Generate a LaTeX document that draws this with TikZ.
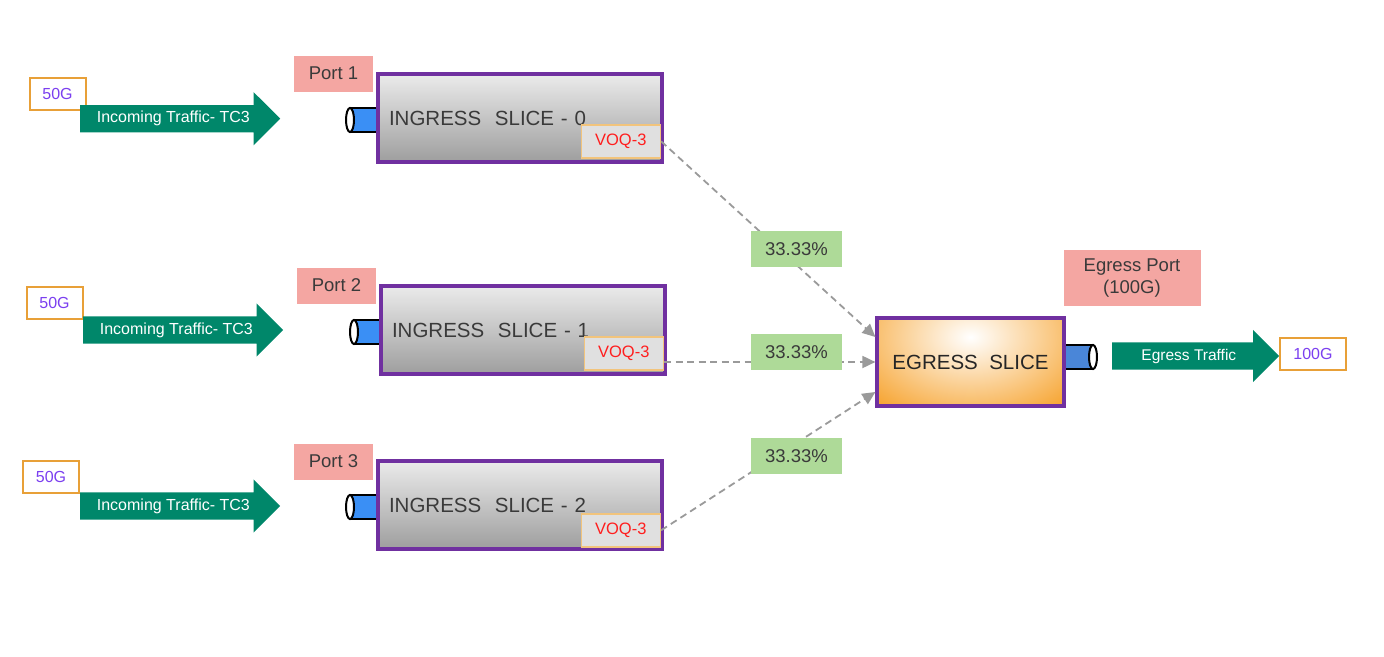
\documentclass[tikz,border=0pt]{standalone}
\usepackage{fontspec}
\setmainfont{Liberation Sans}
\usetikzlibrary{shapes.arrows,arrows.meta}
\definecolor{arrowgreen}{HTML}{00876A}
\definecolor{portpink}{HTML}{F4A6A2}
\definecolor{pctgreen}{HTML}{AEDA98}
\definecolor{slicepurple}{HTML}{7030A0}
\definecolor{boxorange}{HTML}{E8A038}
\definecolor{speedpurple}{HTML}{7B3FF0}
\definecolor{voqorange}{HTML}{F2C47C}
\definecolor{voqred}{HTML}{FF1E1E}
\definecolor{textgray}{HTML}{3A3A3A}
\definecolor{cylblue}{HTML}{3A8FF5}
\definecolor{egblue}{HTML}{4A86D8}
\definecolor{egorange}{HTML}{F6A12A}
\definecolor{conngray}{HTML}{9A9A9A}
\begin{document}
\begin{tikzpicture}[x=1pt,y=-1pt,
  slice/.style={draw=slicepurple, line width=3.2pt, top color=black!8, middle color=black!14, bottom color=black!38,
    minimum width=284pt, minimum height=88pt, inner sep=0pt, text width=262pt, align=left,
    font=\fontsize{20.5}{24}\selectfont, text=textgray},
  voq/.style={draw=voqorange, line width=1.6pt, fill=black!12, text=voqred, minimum width=79pt,
    minimum height=33pt, inner sep=0pt, font=\fontsize{16.5}{19}\selectfont, anchor=south east},
  port/.style={fill=portpink, text=textgray, inner sep=0pt, minimum width=79pt, minimum height=36pt,
    font=\fontsize{18.5}{22}\selectfont},
  speed/.style={draw=boxorange, line width=2pt, fill=white, text=speedpurple, minimum width=56pt,
    minimum height=32pt, inner sep=0pt, font=\fontsize{16}{19}\selectfont},
  pct/.style={fill=pctgreen, text=textgray, minimum width=91pt, minimum height=36pt, inner sep=0pt,
    font=\fontsize{18.5}{22}\selectfont},
  inarrow/.style={single arrow, fill=arrowgreen, text=white, font=\fontsize{16}{19}\selectfont,
    single arrow head extend=13pt, single arrow tip angle=90, minimum height=200pt,
    text height=11pt, text depth=3pt, inner ysep=6.5pt, inner xsep=4pt, anchor=tail},
  outarrow/.style={single arrow, fill=arrowgreen, text=white, font=\fontsize{15.5}{19}\selectfont,
    single arrow head extend=12.5pt, single arrow tip angle=90, minimum height=167pt,
    text height=11pt, text depth=3pt, inner ysep=6.5pt, inner xsep=4pt, anchor=tail},
  conn/.style={draw=conngray, line width=1.8pt, dash pattern=on 7pt off 4.5pt,
    -{Triangle[length=13pt,width=12pt,fill=conngray]}},
  cylbody/.style={draw=black, line width=2pt}
]
\useasboundingbox (0,0) rectangle (1384,656);

% ---------- ingress cylinders ----------
\filldraw[cylbody, fill=cylblue] (350,108) rectangle (380,132);
\filldraw[cylbody, fill=white] (350,120) ellipse [x radius=4pt, y radius=12pt];
\filldraw[cylbody, fill=cylblue] (354,320) rectangle (383,344);
\filldraw[cylbody, fill=white] (354,332) ellipse [x radius=4pt, y radius=12pt];
\filldraw[cylbody, fill=cylblue] (350,495) rectangle (380,519);
\filldraw[cylbody, fill=white] (350,507) ellipse [x radius=4pt, y radius=12pt];

% ---------- ingress slices ----------
\node[slice] (s0) at (520,118) {INGRESS\ \ SLICE - 0};
\node[slice] (s1) at (523,330) {INGRESS\ \ SLICE - 1};
\node[slice] (s2) at (520,505) {INGRESS\ \ SLICE - 2};
\node[voq] (v0) at ([xshift=-2.5pt,yshift=5pt]s0.south east) {VOQ-3};
\node[voq] (v1) at ([xshift=-2.5pt,yshift=5pt]s1.south east) {VOQ-3};
\node[voq] (v2) at ([xshift=-2.5pt,yshift=3pt]s2.south east) {VOQ-3};

% ---------- ports ----------
\node[port] (p1) at (333.5,73.5) {Port 1};
\node[port] (p2) at (336.5,285.5) {Port 2};
\node[port] (p3) at (333.5,461.5) {Port 3};

% ---------- incoming ----------
\node[speed] (g1) at (57.5,93.5) {50G};
\node[speed] (g2) at (54.5,302.5) {50G};
\node[speed] (g3) at (51,476.5) {50G};
\node[inarrow] (a1) at (80,118.7) {Incoming Traffic- TC3};
\node[inarrow] (a2) at (83,330) {Incoming Traffic- TC3};
\node[inarrow] (a3) at (80,506) {Incoming Traffic- TC3};

% ---------- egress ----------
\filldraw[cylbody, fill=egblue] (1063,345) rectangle (1093,369);
\filldraw[cylbody, fill=white] (1093,357) ellipse [x radius=4pt, y radius=12pt];
\node[draw=slicepurple, line width=3.2pt, fill=egorange, minimum width=187pt, minimum height=88pt,
  inner sep=0pt, font=\fontsize{20.5}{24}\selectfont, text=black!85,
  path picture={\shade[inner color=white, outer color=egorange]
    ([yshift=25pt]path picture bounding box.center) ellipse [x radius=140pt, y radius=95pt];}]
  (eg) at (970.5,362) {EGRESS\ \ SLICE};
\node[port, minimum width=137pt, minimum height=56pt, align=center, font=\fontsize{18.5}{22}\selectfont]
  (ep) at (1132,278) {Egress Port\\(100G)};
\node[outarrow] (ea) at (1112,356) {Egress Traffic};
\node[speed, minimum width=66pt, minimum height=32pt] (g4) at (1313,353.5) {100G};

% ---------- connectors ----------
\draw[conn] (v0.east) -- ([yshift=25pt]eg.west);
\draw[conn] (v1.east |- eg.west) -- (eg.west);
\draw[conn] (v2.east) -- ([yshift=-30pt]eg.west);

\node[pct] (c0) at (796.5,249) {33.33\%};
\node[pct] (c1) at (796.5,352) {33.33\%};
\node[pct] (c2) at (796.5,456) {33.33\%};
\end{tikzpicture}
\end{document}
